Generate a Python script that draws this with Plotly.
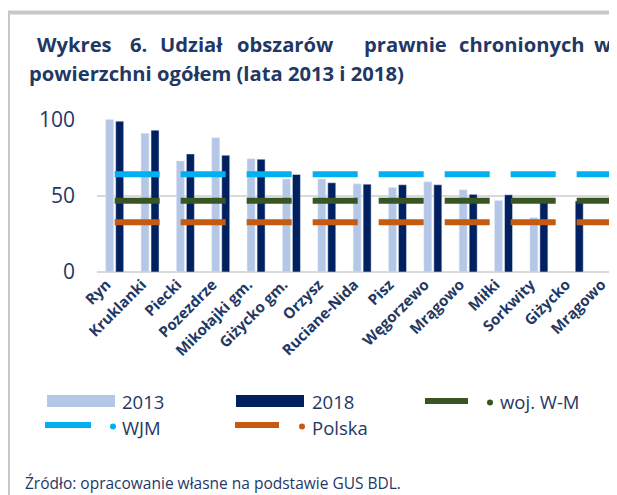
import plotly.graph_objects as go

categories = ["Ryn", "Kruklanki", "Piecki", "Pozezdrze", "Mikołajki gm.", "Giżycko gm.",
              "Orzysz", "Ruciane-Nida", "Pisz", "Węgorzewo", "Mrągowo", "Miłki",
              "Sorkwity", "Giżycko", "Mrągowo"]
share_2013 = [100, 90.9, 72.8, 88.0, 74.3, 60.9, 60.9, 57.8, 55.4, 59.1, 53.9, 46.9, 35.7, None, None]
share_2018 = [98.9, 93.0, 77.4, 76.5, 73.9, 63.9, 58.5, 57.6, 57.2, 57.2, 50.9, 50.6, 46.0, 46.5, 1.0]
wjm_value = 64.1
wm_value = 46.7
polska_value = 32.6

legend_names = ["2013", "2018", "woj. W-M", "WJM", "Polska"]

C_2013 = "#B4C7E7"
C_2018 = "#002060"
C_WJM = "#00B0F0"
C_WM = "#375623"
C_PL = "#C55A11"
TXT = "#1F3864"
FONT = "Open Sans"

# page body adds 8px margin, so the figure is a bit smaller and shifted
OFF = 8
W, H = 617 - OFF, 495 - OFF
ML, MT = 97 - OFF, 119 - OFF
PLOT_BOTTOM = 272 - OFF
MR, MB = 0, H - PLOT_BOTTOM
PW, PH = W - ML - MR, PLOT_BOTTOM - MT


def px_x(p):
    return (p - OFF - ML) / PW


def px_y(p):
    return (PLOT_BOTTOM - (p - OFF)) / PH


idx = list(range(len(categories)))
fig = go.Figure()
fig.add_trace(go.Bar(x=idx, y=share_2013, marker_color=C_2013, name="2013"))
fig.add_trace(go.Bar(x=idx, y=share_2018, marker_color=C_2018, name="2018"))
for val, col in [(wjm_value, C_WJM), (wm_value, C_WM), (polska_value, C_PL)]:
    fig.add_trace(go.Scatter(x=[idx[0], idx[-1]], y=[val, val], mode="lines",
                             line=dict(color=col, width=6, dash="45px,21px")))

fig.update_layout(
    width=W, height=H, margin=dict(l=ML, r=MR, t=MT, b=MB),
    plot_bgcolor="white", paper_bgcolor="white", showlegend=False,
    barmode="group", bargap=0.434, bargroupgap=0.2,
    font=dict(family=FONT, color=TXT),
    hovermode=False,
)
# rotated labels end at the category centre, so nudge the label anchors left a bit
label_pos = [i - 0.23 for i in idx]
fig.update_xaxes(range=[-0.5, 14.21], tickvals=label_pos, ticktext=categories, tickangle=-45,
                 tickfont=dict(size=15, weight="bold", color=TXT), showgrid=False,
                 showline=False, zeroline=False, ticklabeloverflow="allow")
fig.update_yaxes(range=[0, 100.3], tickvals=[0, 50, 100], tickfont=dict(size=21, color=TXT),
                 gridcolor="#D9D9D9", gridwidth=2, zeroline=True, zerolinecolor="#D9D9D9",
                 zerolinewidth=2, showline=False, ticklabelstandoff=21)

shapes = []
# chart border (left + top)
shapes.append(dict(type="line", xref="paper", yref="paper", x0=px_x(8), x1=px_x(8),
                   y0=px_y(500), y1=px_y(12.5), line=dict(color="#C8C8C8", width=4)))
shapes.append(dict(type="line", xref="paper", yref="paper", x0=px_x(6), x1=px_x(620),
                   y0=px_y(12.5), y1=px_y(12.5), line=dict(color="#C8C8C8", width=4)))

# legend swatches
for x0, x1, col in [(47, 115, C_2013), (236, 304, C_2018)]:
    shapes.append(dict(type="rect", xref="paper", yref="paper", x0=px_x(x0), x1=px_x(x1),
                       y0=px_y(407), y1=px_y(395), fillcolor=col, line=dict(width=0)))
for x0, x1, y, dot, col in [(425, 468, 401, 490, C_WM), (45, 91, 425, 113, C_WJM),
                            (235, 279, 425, 302, C_PL)]:
    shapes.append(dict(type="line", xref="paper", yref="paper", x0=px_x(x0), x1=px_x(x1),
                       y0=px_y(y), y1=px_y(y), line=dict(color=col, width=6)))
    shapes.append(dict(type="circle", xref="paper", yref="paper", x0=px_x(dot - 3),
                       x1=px_x(dot + 3), y0=px_y(y + 4.5), y1=px_y(y - 1.5),
                       fillcolor=col, line=dict(width=0)))
fig.update_layout(shapes=shapes)

annotations = []
title_words = [("Wykres", 35), ("6.", 128), ("Udział", 158), ("obszarów", 235),
               ("prawnie", 362), ("chronionych", 457), ("w", 592)]
for word, x in title_words:
    annotations.append(dict(text=word, x=px_x(x), y=px_y(44), showarrow=False,
                            xanchor="left", yanchor="middle", xref="paper", yref="paper",
                            font=dict(size=20.2, weight="bold", color=TXT)))
annotations.append(dict(text="powierzchni ogółem (lata 2013 i 2018)", x=px_x(27), y=px_y(73),
                        showarrow=False, xanchor="left", yanchor="middle", xref="paper",
                        yref="paper", font=dict(size=20.2, weight="bold", color=TXT)))
for name, x, y in zip(legend_names, [120, 310, 498, 120, 310], [401, 401, 401, 427, 427]):
    annotations.append(dict(text=name, x=px_x(x), y=px_y(y), showarrow=False, xanchor="left",
                            yanchor="middle", xref="paper", yref="paper",
                            font=dict(size=18.5, color=TXT)))
annotations.append(dict(text="Źródło: opracowanie własne na podstawie GUS BDL.", x=px_x(23),
                        y=px_y(483), showarrow=False, xanchor="left", yanchor="middle",
                        xref="paper", yref="paper", font=dict(size=15.5, color=TXT)))
fig.update_layout(annotations=annotations)

fig.write_html("out.html")
